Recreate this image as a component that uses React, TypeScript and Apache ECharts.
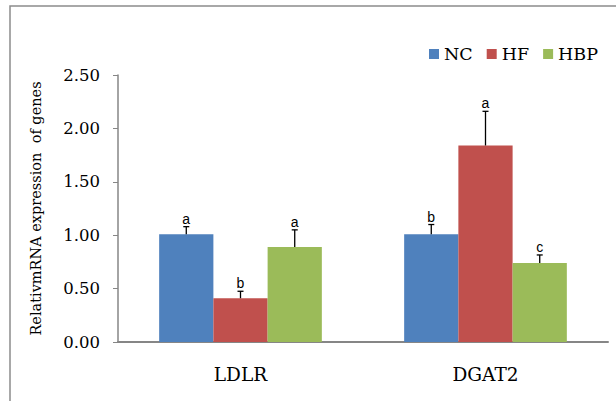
import React, { useEffect, useRef } from "react";
import * as echarts from "echarts";

const categories = ["LDLR", "DGAT2"];
const seriesNames = ["NC", "HF", "HBP"];
const ncValues = [1.01, 1.01];
const hfValues = [0.41, 1.84];
const hbpValues = [0.89, 0.74];
const ncErrors = [0.07, 0.09];
const hfErrors = [0.065, 0.32];
const hbpErrors = [0.16, 0.075];
const ncLetters = ["a", "b"];
const hfLetters = ["b", "a"];
const hbpLetters = ["a", "c"];
const yTicks = [0, 0.5, 1, 1.5, 2, 2.5];

const colors = ["#4F81BD", "#C0504D", "#9BBB59"];
const GAP = 0.336;
const serif = "DejaVu Serif";

export default function App() {
  const ref = useRef<HTMLDivElement>(null);
  useEffect(() => {
    if (!ref.current) return;
    const chart = echarts.init(ref.current, null, { renderer: "svg" });
    const values = [ncValues, hfValues, hbpValues];
    const errors = [ncErrors, hfErrors, hbpErrors];
    const letters = [ncLetters, hfLetters, hbpLetters];
    const errData: number[][] = [];
    const errLetters: string[] = [];
    values.forEach((vals, si) => {
      vals.forEach((v, ci) => {
        errData.push([ci, v, errors[si][ci], si]);
        errLetters.push(letters[si][ci]);
      });
    });
    chart.setOption({
      animation: false,
      color: colors,
      graphic: [
        {
          type: "rect",
          shape: { x: 10, y: 6, width: 800, height: 600 },
          style: { fill: "none", stroke: "#8c8c8c", lineWidth: 1.5 },
          silent: true,
        },
      ],
      legend: {
        data: seriesNames,
        left: 424,
        top: 40,
        itemWidth: 10,
        itemHeight: 10,
        itemGap: 14,
        icon: "rect",
        textStyle: { fontFamily: serif, fontSize: 17.5, color: "#000" },
      },
      grid: { left: 118, right: 8, top: 75, bottom: 59, containLabel: false },
      xAxis: {
        type: "category",
        data: categories,
        axisLine: { lineStyle: { color: "#868686", width: 2 } },
        axisTick: { inside: true, length: 6, alignWithLabel: false, lineStyle: { color: "#868686", width: 1 } },
        axisLabel: { fontFamily: serif, fontSize: 18.5, color: "#000", margin: 23 },
      },
      yAxis: {
        type: "value",
        min: 0,
        max: 2.5,
        interval: 0.5,
        name: "RelativmRNA expression  of genes",
        nameLocation: "middle",
        nameGap: 75,
        nameTextStyle: { fontFamily: serif, fontSize: 14.5, color: "#000" },
        axisLine: { show: true, lineStyle: { color: "#868686", width: 1.5 } },
        axisTick: { show: true, length: 5, lineStyle: { color: "#868686" } },
        splitLine: { show: false },
        axisLabel: {
          fontFamily: serif,
          fontSize: 16.5,
          color: "#000",
          margin: 18,
          formatter: (v: number) => (yTicks.includes(v) ? v.toFixed(2) : ""),
        },
      },
      series: [
        ...seriesNames.map((name, i) => ({
          name,
          type: "bar",
          data: values[i],
          barGap: "0%",
          barCategoryGap: GAP * 100 + "%",
          itemStyle: { color: colors[i] },
        })),
        {
          type: "custom",
          name: "err",
          z: 5,
          data: errData,
          encode: { x: 0, y: 1 },
          renderItem: (params: any, api: any) => {
            const ci = api.value(0);
            const v = api.value(1);
            const e = api.value(2);
            const si = api.value(3);
            const p = api.coord([ci, v]);
            const t = api.coord([ci, v + e]);
            const catW = api.size([1, 0])[0];
            const bw = (catW * (1 - GAP)) / 3;
            const x = p[0] + (si - 1) * bw;
            const letter = errLetters[params.dataIndex];
            return {
              type: "group",
              children: [
                { type: "line", shape: { x1: x, y1: p[1], x2: x, y2: t[1] }, style: { stroke: "#000", lineWidth: 1.3 } },
                { type: "line", shape: { x1: x - 3, y1: t[1], x2: x + 3, y2: t[1] }, style: { stroke: "#000", lineWidth: 1.3 } },
                {
                  type: "text",
                  style: {
                    text: letter,
                    x: x,
                    y: t[1] - 1,
                    textAlign: "center",
                    textVerticalAlign: "bottom",
                    fontFamily: "Liberation Sans",
                    fontSize: 14,
                    fill: "#000",
                  },
                },
              ],
            };
          },
        },
      ],
    });
    return () => chart.dispose();
  }, []);
  return <div ref={ref} style={{ position: "fixed", left: 0, top: 0, width: 616, height: 401, background: "#fff" }} />;
}
